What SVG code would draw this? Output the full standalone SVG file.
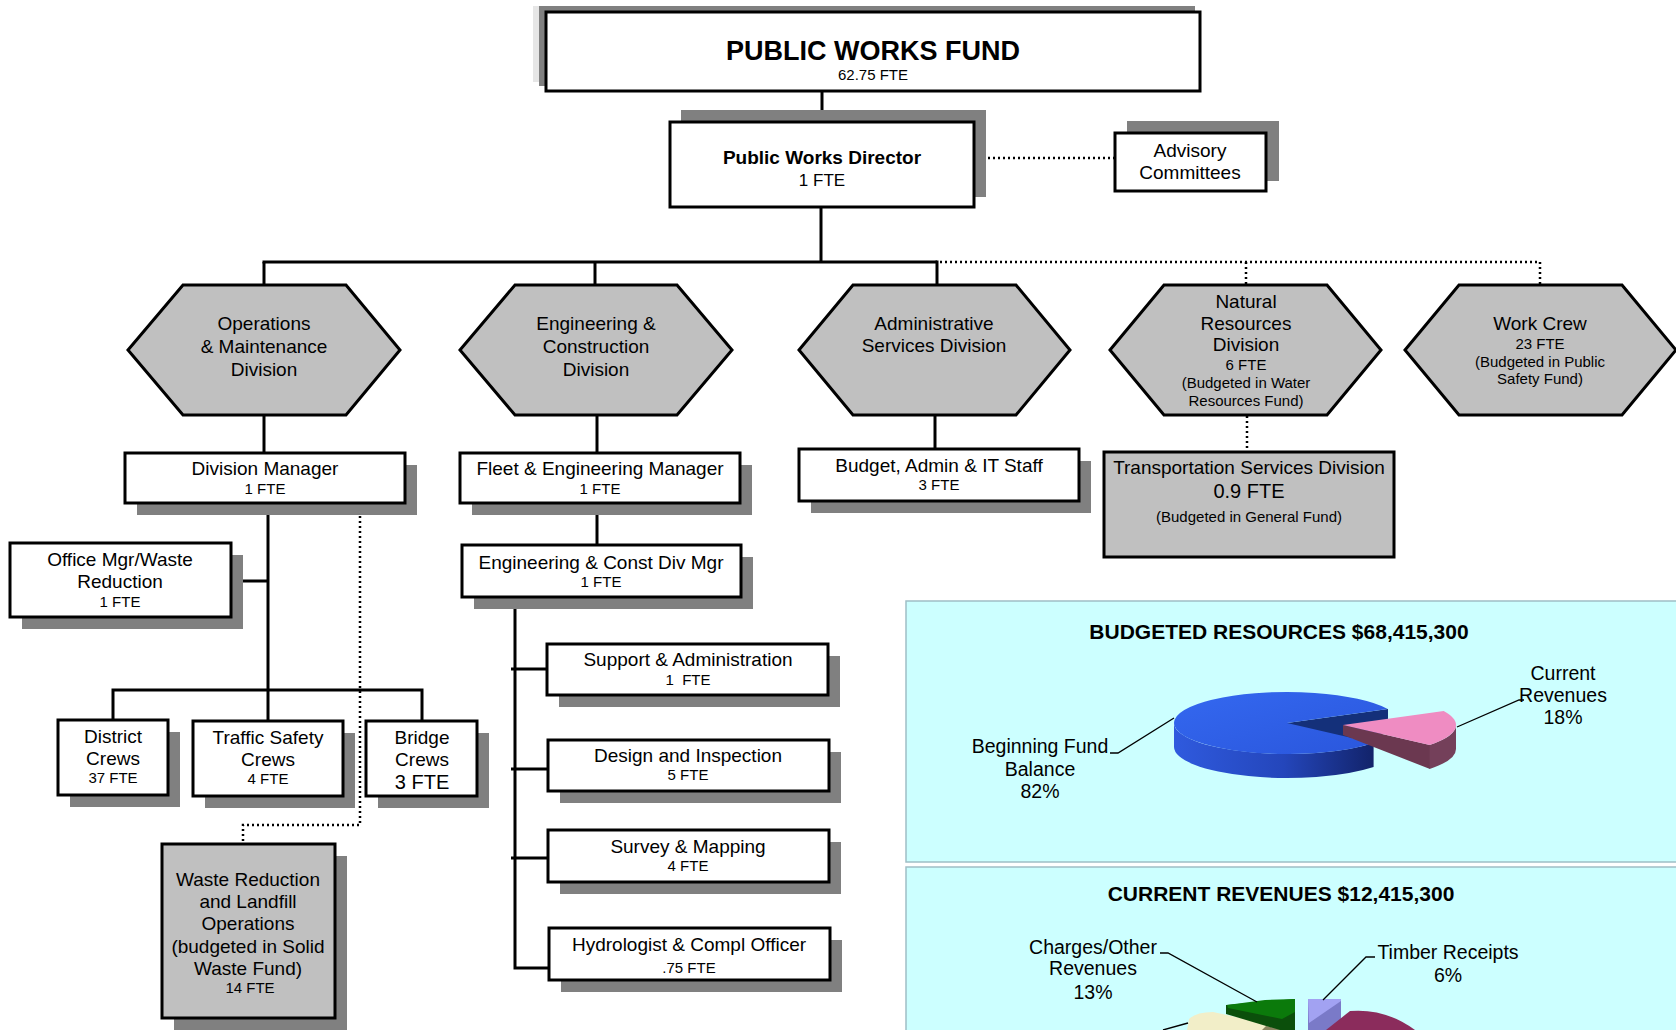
<svg xmlns="http://www.w3.org/2000/svg" width="1676" height="1030" viewBox="0 0 1676 1030">
<style>
text{font-family:"Liberation Sans",Arial,sans-serif;fill:#000;text-anchor:middle}
.t{font-size:19px}
.s{font-size:15px}
.b{font-weight:bold}
.box{fill:#fff;stroke:#000;stroke-width:3}
.gbox{fill:#c0c0c0;stroke:#000;stroke-width:3}
.hex{fill:#c0c0c0;stroke:#000;stroke-width:3;stroke-linejoin:miter}
.sh{fill:#808080}
.ln{fill:none;stroke:#000;stroke-width:3}
.dt{fill:none;stroke:#000;stroke-width:2.5;stroke-dasharray:2 3}
.ld{fill:none;stroke:#000;stroke-width:1.3}
.panel{fill:#ccffff;stroke:#9fbfc6;stroke-width:1.5}
.ct{font-size:19.5px}
</style>
<defs>
<linearGradient id="blueSide" x1="0" y1="0" x2="1" y2="0">
<stop offset="0" stop-color="#2f5ade"/>
<stop offset="0.55" stop-color="#2446bb"/>
<stop offset="1" stop-color="#12236a"/>
</linearGradient>
<linearGradient id="blueTop" x1="0" y1="0" x2="1" y2="1">
<stop offset="0" stop-color="#3468f0"/>
<stop offset="1" stop-color="#2a56dc"/>
</linearGradient>
</defs>
<rect width="1676" height="1030" fill="#fff"/>

<g id="connectors">
<line class="ln" x1="822" y1="91" x2="822" y2="122"/>
<line class="ln" x1="821" y1="207" x2="821" y2="262"/>
<line class="ln" x1="262.5" y1="262" x2="937" y2="262"/>
<line class="ln" x1="264" y1="262" x2="264" y2="286"/>
<line class="ln" x1="595" y1="262" x2="595" y2="286"/>
<line class="ln" x1="937" y1="260.5" x2="937" y2="286"/>
<path class="dt" d="M940,262 H1540 V285 M1246,262 V284"/>
<path class="dt" d="M988,158 H1115"/>
<line class="ln" x1="264" y1="415" x2="264" y2="453"/>
<line class="ln" x1="597" y1="415" x2="597" y2="453"/>
<line class="ln" x1="935" y1="415" x2="935" y2="449"/>
<path class="dt" d="M1247,416 V452"/>
<line class="ln" x1="268" y1="503" x2="268" y2="721"/>
<line class="ln" x1="231" y1="581" x2="268" y2="581"/>
<path class="ln" d="M113,720 V690 H422 V721"/>
<path class="dt" d="M360,516 V825 H243 V844"/>
<line class="ln" x1="597" y1="503" x2="597" y2="545"/>
<path class="ln" d="M515,598 V968 H549"/>
<line class="ln" x1="511" y1="669" x2="547" y2="669"/>
<line class="ln" x1="511" y1="769" x2="548" y2="769"/>
<line class="ln" x1="511" y1="858" x2="548" y2="858"/>
</g>

<g id="public-works-fund">
<rect x="533" y="6" width="20" height="76" fill="#e6e6e6"/>
<rect class="sh" x="539" y="6" width="656" height="80"/>
<rect class="box" x="546" y="12" width="654" height="79"/>
<text class="b" x="873" y="60" font-size="27">PUBLIC WORKS FUND</text>
<text class="s" x="873" y="80">62.75 FTE</text>
</g>

<g id="director">
<rect class="sh" x="681" y="110" width="305" height="87"/>
<rect class="box" x="670" y="122" width="304" height="85"/>
<text class="b t" x="822" y="164">Public Works Director</text>
<text x="822" y="186" font-size="17">1 FTE</text>
</g>

<g id="advisory">
<rect class="sh" x="1127" y="121" width="152" height="60"/>
<rect class="box" x="1115" y="133" width="151" height="58"/>
<text class="t" x="1190" y="157">Advisory</text>
<text class="t" x="1190" y="179">Committees</text>
</g>

<g id="ops-division">
<polygon class="hex" points="128,350 183,285 346,285 400,350 346,415 183,415"/>
<text class="t" x="264" y="330">Operations</text>
<text class="t" x="264" y="353">&amp; Maintenance</text>
<text class="t" x="264" y="376">Division</text>
</g>

<g id="eng-division">
<polygon class="hex" points="460,350 515,285 677,285 732,350 677,415 515,415"/>
<text class="t" x="596" y="330">Engineering &amp;</text>
<text class="t" x="596" y="353">Construction</text>
<text class="t" x="596" y="376">Division</text>
</g>

<g id="admin-division">
<polygon class="hex" points="799,350 853,285 1016,285 1070,350 1016,415 853,415"/>
<text class="t" x="934" y="330">Administrative</text>
<text class="t" x="934" y="352">Services Division</text>
</g>

<g id="natural-resources">
<polygon class="hex" points="1110,350 1164,285 1327,285 1381,350 1327,415 1164,415"/>
<text class="t" x="1246" y="308">Natural</text>
<text class="t" x="1246" y="330">Resources</text>
<text class="t" x="1246" y="351">Division</text>
<text class="s" x="1246" y="370">6 FTE</text>
<text class="s" x="1246" y="388">(Budgeted in Water</text>
<text class="s" x="1246" y="406">Resources Fund)</text>
</g>

<g id="work-crew">
<polygon class="hex" points="1405,350 1459,285 1622,285 1676,350 1622,415 1459,415"/>
<text class="t" x="1540" y="330">Work Crew</text>
<text class="s" x="1540" y="349">23 FTE</text>
<text class="s" x="1540" y="367">(Budgeted in Public</text>
<text class="s" x="1540" y="384">Safety Fund)</text>
</g>

<g id="division-manager">
<rect class="sh" x="137" y="465" width="280" height="50"/>
<rect class="box" x="125" y="453" width="280" height="50"/>
<text class="t" x="265" y="475">Division Manager</text>
<text class="s" x="265" y="494">1 FTE</text>
</g>

<g id="fleet-manager">
<rect class="sh" x="472" y="465" width="280" height="50"/>
<rect class="box" x="460" y="453" width="280" height="50"/>
<text class="t" x="600" y="475">Fleet &amp; Engineering Manager</text>
<text class="s" x="600" y="494">1 FTE</text>
</g>

<g id="budget-admin">
<rect class="sh" x="811" y="461" width="280" height="52"/>
<rect class="box" x="799" y="449" width="280" height="52"/>
<text class="t" x="939" y="472">Budget, Admin &amp; IT Staff</text>
<text class="s" x="939" y="490">3 FTE</text>
</g>

<g id="transportation">
<rect class="gbox" x="1104" y="452" width="290" height="105"/>
<text class="t" x="1249" y="474">Transportation Services Division</text>
<text x="1249" y="498" font-size="20">0.9 FTE</text>
<text class="s" x="1249" y="522">(Budgeted in General Fund)</text>
</g>

<g id="office-mgr">
<rect class="sh" x="22" y="555" width="221" height="74"/>
<rect class="box" x="10" y="543" width="221" height="74"/>
<text class="t" x="120" y="566">Office Mgr/Waste</text>
<text class="t" x="120" y="588">Reduction</text>
<text class="s" x="120" y="607">1 FTE</text>
</g>

<g id="district-crews">
<rect class="sh" x="70" y="732" width="110" height="75"/>
<rect class="box" x="58" y="720" width="110" height="75"/>
<text class="t" x="113" y="743">District</text>
<text class="t" x="113" y="765">Crews</text>
<text class="s" x="113" y="783">37 FTE</text>
</g>

<g id="traffic-crews">
<rect class="sh" x="205" y="733" width="150" height="75"/>
<rect class="box" x="193" y="721" width="150" height="75"/>
<text class="t" x="268" y="744">Traffic Safety</text>
<text class="t" x="268" y="766">Crews</text>
<text class="s" x="268" y="784">4 FTE</text>
</g>

<g id="bridge-crews">
<rect class="sh" x="378" y="733" width="111" height="75"/>
<rect class="box" x="366" y="721" width="111" height="75"/>
<text class="t" x="422" y="744">Bridge</text>
<text class="t" x="422" y="766">Crews</text>
<text x="422" y="789" font-size="20">3 FTE</text>
</g>

<g id="waste-reduction">
<rect class="sh" x="174" y="856" width="173" height="174"/>
<rect class="gbox" x="162" y="844" width="173" height="174"/>
<text class="t" x="248" y="886">Waste Reduction</text>
<text class="t" x="248" y="908">and Landfill</text>
<text class="t" x="248" y="930">Operations</text>
<text class="t" x="248" y="953">(budgeted in Solid</text>
<text class="t" x="248" y="975">Waste Fund)</text>
<text class="s" x="250" y="993">14 FTE</text>
</g>

<g id="eng-const-mgr">
<rect class="sh" x="474" y="557" width="279" height="52"/>
<rect class="box" x="462" y="545" width="279" height="52"/>
<text class="t" x="601" y="569">Engineering &amp; Const Div Mgr</text>
<text class="s" x="601" y="587">1 FTE</text>
</g>

<g id="support-admin">
<rect class="sh" x="559" y="656" width="281" height="51"/>
<rect class="box" x="547" y="644" width="281" height="51"/>
<text class="t" x="688" y="666">Support &amp; Administration</text>
<text class="s" x="688" y="685" xml:space="preserve">1  FTE</text>
</g>

<g id="design-inspection">
<rect class="sh" x="560" y="752" width="281" height="51"/>
<rect class="box" x="548" y="740" width="281" height="51"/>
<text class="t" x="688" y="762">Design and Inspection</text>
<text class="s" x="688" y="780">5 FTE</text>
</g>

<g id="survey-mapping">
<rect class="sh" x="560" y="842" width="281" height="52"/>
<rect class="box" x="548" y="830" width="281" height="52"/>
<text class="t" x="688" y="853">Survey &amp; Mapping</text>
<text class="s" x="688" y="871">4 FTE</text>
</g>

<g id="hydrologist">
<rect class="sh" x="561" y="940" width="281" height="52"/>
<rect class="box" x="549" y="928" width="281" height="52"/>
<text class="t" x="689" y="951">Hydrologist &amp; Compl Officer</text>
<text class="s" x="689" y="973">.75 FTE</text>
</g>

<g id="budgeted-resources-chart">
<rect class="panel" x="906" y="601" width="775" height="261"/>
<text class="b" x="1279" y="639" font-size="21">BUDGETED RESOURCES $68,415,300</text>
<polygon points="1287,723 1388,709 1388,733 1287,747" fill="#14307a"/>
<path d="M1373.6,742.9 A113,31 0 0 1 1174,723 L1174,747 A113,31 0 0 0 1373.6,766.9 Z" fill="url(#blueSide)"/>
<path d="M1287,723 L1373.6,742.9 A113,31 0 1 1 1387.7,708.9 Z" fill="url(#blueTop)"/>
<polygon points="1343,725 1430,745 1430,769 1343,735" fill="#6b3850"/>
<path d="M1429.6,744.9 A113,31 0 0 0 1456,725 L1456,749 A113,31 0 0 1 1429.6,768.9 Z" fill="#74405a"/>
<path d="M1343,725 L1443.7,710.9 A113,31 0 0 1 1429.6,744.9 Z" fill="#ef8cc2"/>
<polyline class="ld" points="1110,753 1118,753 1174,718"/>
<polyline class="ld" points="1457,727 1519,700 1524,700"/>
<text class="ct" x="1040" y="753">Beginning Fund</text>
<text class="ct" x="1040" y="776">Balance</text>
<text class="ct" x="1040" y="798">82%</text>
<text class="ct" x="1563" y="680">Current</text>
<text class="ct" x="1563" y="702">Revenues</text>
<text class="ct" x="1563" y="724">18%</text>
</g>

<g id="current-revenues-chart">
<rect class="panel" x="906" y="867" width="775" height="170"/>
<text class="b" x="1281" y="901" font-size="21">CURRENT REVENUES $12,415,300</text>
<path d="M1187,1030 L1189,1019 Q1196,1012 1213,1012 L1283,1027 L1286,1030 Z" fill="#f2eec8"/>
<polygon points="1266,1026 1286,1029 1287,1030 1262,1030" fill="#8a8660"/>
<polygon points="1226,1005 1295,999 1295,1030 1280,1030 1226,1014" fill="#0b4f0b"/>
<polygon points="1227,1005 1265,1000 1295,999 1295,1012 1282,1019 1228,1008" fill="#0b7a0b"/>
<rect x="1308" y="999" width="33" height="31" fill="#7a7ac8"/>
<polygon points="1308,999 1341,999 1341,1001 1309,1023" fill="#a2a2f2"/>
<path d="M1326,1030 L1350,1011 Q1385,1008 1415,1030 Z" fill="#8b2c5c"/>
<polyline class="ld" points="1160,953 1168,953 1257,1002"/>
<polyline class="ld" points="1375,957 1366,957 1323,1000"/>
<polyline class="ld" points="1163,1030 1188,1023"/>
<text class="ct" x="1093" y="954">Charges/Other</text>
<text class="ct" x="1093" y="975">Revenues</text>
<text class="ct" x="1093" y="999">13%</text>
<text class="ct" x="1448" y="959">Timber Receipts</text>
<text class="ct" x="1448" y="982">6%</text>
</g>
</svg>
